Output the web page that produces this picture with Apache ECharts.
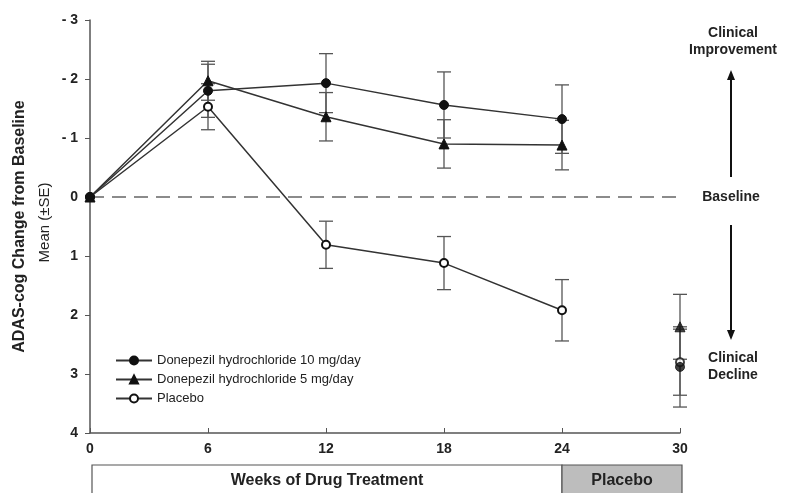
<!DOCTYPE html>
<html><head><meta charset="utf-8">
<script src="https://cdn.jsdelivr.net/npm/echarts@6/dist/echarts.min.js"></script>
<style>html,body{margin:0;padding:0;background:#fff}#c{width:785px;height:493px}</style>
</head><body><div id="c"></div>
<script>
const weeks = [0, 6, 12, 18, 24, 30];
const xTicks = [0, 6, 12, 18, 24, 30];
const yTicks = [-3, -2, -1, 0, 1, 2, 3, 4];
const seriesNames = ['Donepezil hydrochloride 10 mg/day', 'Donepezil hydrochloride 5 mg/day', 'Placebo'];
const mean10 = [0, -1.80, -1.93, -1.56, -1.32, 2.88];
const se10   = [0, 0.45, 0.50, 0.56, 0.58, 0.68];
const mean5  = [0, -1.97, -1.36, -0.90, -0.88, 2.20];
const se5    = [0, 0.33, 0.41, 0.41, 0.42, 0.55];
const meanPl = [0, -1.53, 0.81, 1.12, 1.92, 2.80];
const sePl   = [0, 0.39, 0.40, 0.45, 0.52, 0.56];
const phases = [{label: 'Weeks of Drug Treatment', from: 0, to: 24}, {label: 'Placebo', from: 24, to: 30}];
const yTitle = 'ADAS-cog Change from Baseline';
const ySubTitle = 'Mean (±SE)';

const FONT = '"Liberation Sans", Arial, sans-serif';
const INK = '#333';
const chart = echarts.init(document.getElementById('c'), null, {renderer: 'canvas'});

const symbols = ['circle', 'triangle', 'emptyCircle'];
const symSizes = [9, 10, 8];
const zs = [5, 4, 3];
const means = [mean10, mean5, meanPl];
const ses = [se10, se5, sePl];

function errData(m, s) {
  return weeks.map((w, i) => s[i] > 0 ? [w, m[i] - s[i], m[i] + s[i]] : null).filter(Boolean);
}
function errSeries(m, s) {
  return {
    type: 'custom', silent: true, z: 1,
    data: errData(m, s),
    renderItem: function (params, api) {
      const lo = api.coord([api.value(0), api.value(1)]);
      const hi = api.coord([api.value(0), api.value(2)]);
      const hw = 7;
      const st = {stroke: '#555', lineWidth: 1.3};
      return {type: 'group', children: [
        {type: 'line', shape: {x1: lo[0], y1: lo[1], x2: hi[0], y2: hi[1]}, style: st},
        {type: 'line', shape: {x1: lo[0] - hw, y1: lo[1], x2: lo[0] + hw, y2: lo[1]}, style: st},
        {type: 'line', shape: {x1: hi[0] - hw, y1: hi[1], x2: hi[0] + hw, y2: hi[1]}, style: st}
      ]};
    }
  };
}

const series = [];
means.forEach((m, k) => series.push(errSeries(m, ses[k])));
means.forEach((m, k) => {
  const itemStyle = k === 2 ? {color: '#111', borderColor: '#111', borderWidth: 1.3}
                            : {color: '#111', borderColor: '#111', borderWidth: 1};
  series.push({
    name: seriesNames[k], type: 'line', z: zs[k],
    data: weeks.slice(0, 5).map((w, i) => [w, m[i]]),
    symbol: symbols[k], symbolSize: symSizes[k], showAllSymbol: true,
    lineStyle: {color: INK, width: 1.5},
    itemStyle: itemStyle,
    emphasis: {disabled: true}
  });
  series.push({
    name: seriesNames[k], type: 'scatter', z: zs[k],
    data: [[weeks[5], m[5]]],
    symbol: symbols[k], symbolSize: symSizes[k],
    itemStyle: itemStyle
  });
});
// dashed baseline
series.push({
  type: 'line', silent: true, z: 0, symbol: 'none',
  data: [[0, 0], [30, 0]],
  lineStyle: {color: '#666', width: 1.5, type: [14, 8]}
});

const option = {
  animation: false,
  backgroundColor: '#fff',
  grid: {left: 90, right: 105, top: 20, bottom: 60, containLabel: false, outerBoundsMode: 'none'},
  legend: {
    orient: 'vertical', left: 110, top: 349, itemGap: 6,
    itemWidth: 36, itemHeight: 10,
    data: seriesNames,
    textStyle: {fontFamily: FONT, fontSize: 13, color: '#222'},
    selectedMode: false
  },
  xAxis: {
    type: 'value', min: 0, max: 30, interval: 6,
    axisLine: {onZero: false, lineStyle: {color: '#555', width: 1.5}},
    axisTick: {inside: true, length: 5, lineStyle: {color: '#555'}},
    splitLine: {show: false},
    axisLabel: {fontFamily: FONT, fontSize: 14, fontWeight: 'bold', color: '#222', margin: 9}
  },
  yAxis: {
    type: 'value', min: -3, max: 4, interval: 1, inverse: true,
    axisLine: {show: true, onZero: false, lineStyle: {color: '#555', width: 1.5}},
    axisTick: {show: true, length: 5, lineStyle: {color: '#555'}},
    splitLine: {show: false},
    axisLabel: {
      fontFamily: FONT, fontSize: 14, fontWeight: 'bold', color: '#222', margin: 12,
      formatter: v => yTicks.includes(v) ? (v < 0 ? '- ' + Math.abs(v) : String(v)) : ''
    }
  },
  series: series
};
chart.setOption(option);

// annotations and phase boxes, positioned through the axes
const p = (x, y) => chart.convertToPixel({gridIndex: 0}, [x, y]);
const yTop = p(0, -3)[1], yBase = p(0, 0)[1], yBot = p(0, 4)[1];
const yMid = (yTop + yBot) / 2;
const ax = 731;
const g = [];
g.push({type: 'text', x: 20, y: yMid, rotation: Math.PI / 2,
  style: {text: yTitle, fontFamily: FONT, fontSize: 16, fontWeight: 'bold', fill: '#222', align: 'center', verticalAlign: 'middle'}});
g.push({type: 'text', x: 45, y: yMid - 4, rotation: Math.PI / 2,
  style: {text: ySubTitle, fontFamily: FONT, fontSize: 15, fill: '#222', align: 'center', verticalAlign: 'middle'}});
const arrowStyle = {stroke: '#111', lineWidth: 2};
g.push({type: 'line', shape: {x1: ax, y1: yBase - 20, x2: ax, y2: yTop + 55}, style: arrowStyle});
g.push({type: 'polygon', shape: {points: [[ax, yTop + 50], [ax - 4, yTop + 60], [ax + 4, yTop + 60]]}, style: {fill: '#111'}});
g.push({type: 'line', shape: {x1: ax, y1: yBase + 28, x2: ax, y2: yBase + 137}, style: arrowStyle});
g.push({type: 'polygon', shape: {points: [[ax, yBase + 143], [ax - 4, yBase + 133], [ax + 4, yBase + 133]]}, style: {fill: '#111'}});
const txt = (x, y, s) => ({type: 'text', x: x, y: y, style: {text: s, fontFamily: FONT, fontSize: 14, fontWeight: 'bold', fill: '#222', align: 'center', verticalAlign: 'middle', lineHeight: 17}});
g.push(txt(ax + 2, yTop + 22, 'Clinical\nImprovement'));
g.push(txt(ax, yBase, 'Baseline'));
g.push(txt(ax + 2, yBase + 170, 'Clinical\nDecline'));
phases.forEach((ph, i) => {
  const x0 = p(ph.from, 0)[0] + (i === 0 ? 2 : 0), x1 = p(ph.to, 0)[0] + (i === 1 ? 2 : 0);
  g.push({type: 'rect', shape: {x: x0, y: yBot + 32, width: x1 - x0, height: 40},
    style: {fill: i === 0 ? '#fff' : '#bdbdbd', stroke: '#555', lineWidth: 1.2}});
  g.push({type: 'text', x: (x0 + x1) / 2, y: yBot + 48, style: {text: ph.label, fontFamily: FONT, fontSize: 16, fontWeight: 'bold', fill: '#222', align: 'center', verticalAlign: 'middle'}});
});
chart.setOption({graphic: g});
</script></body></html>
